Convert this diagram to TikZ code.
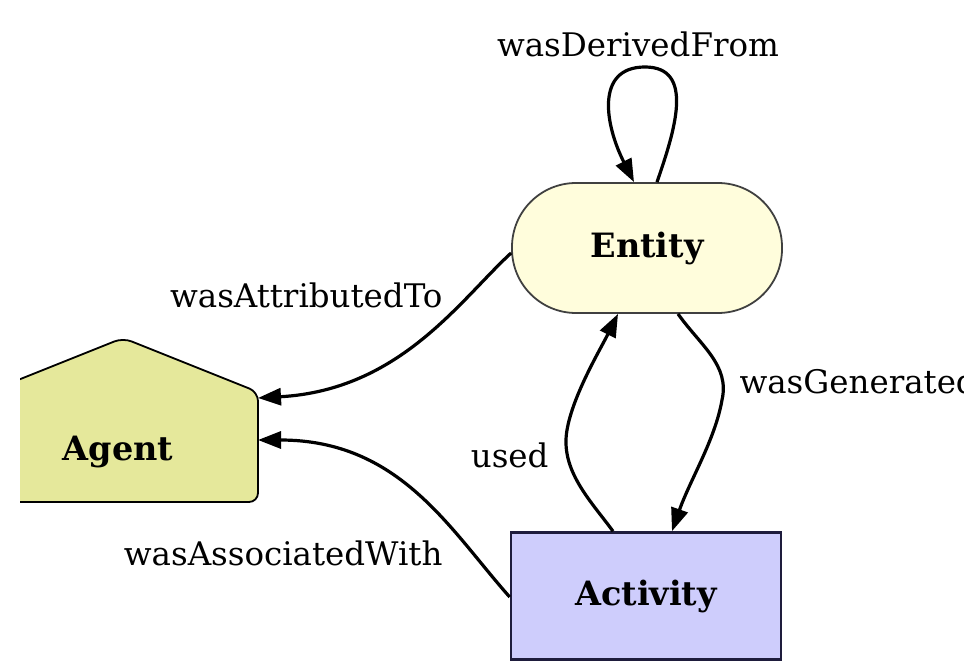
\documentclass[tikz,border=0pt]{standalone}
\usepackage{fontspec}
\setmainfont{DejaVu Serif}
\usetikzlibrary{calc, arrows.meta}
\definecolor{agentfill}{HTML}{E5E89B}
\definecolor{entityfill}{HTML}{FFFDDC}
\definecolor{activityfill}{HTML}{CECDFC}
\definecolor{activityline}{HTML}{1E1C3C}
\tikzstyle{every node}=[font=\fontsize{32.5}{36}\selectfont]
\tikzstyle{rel}=[-{Triangle[length=23pt,width=17pt]}, line width=3.2pt]
\tikzstyle{kind}=[font=\fontsize{33.5}{36}\selectfont\bfseries]

\begin{document}
\begin{tikzpicture}[x=1pt, y=-1pt]
	\clip (0,0) rectangle (964,663);
	
%%%%     NOEUDS     %%%%

	% agent
	\begin{scope}
		\clip (20,0) rectangle (964,663);
		\draw[fill=agentfill, line width=1.8pt, rounded corners=9pt] (-12,392) -- (123,338) -- (258,392) -- (258,502) -- (-12,502) -- cycle;
	\end{scope}
	\node[kind] (agent) at (118,452) {Agent};
	\coordinate (agA) at (258,398);
	\coordinate (agB) at (258,440);
	
	% entite
	\node[kind, draw=black!75, line width=1.8pt, fill=entityfill, rounded corners=64pt, minimum width=270pt, minimum height=130pt] (entity) at (647,248) {Entity};
	
	% activite
	\node[kind, draw=activityline, line width=2.6pt, fill=activityfill, minimum width=270pt, minimum height=127pt] (activity) at (646,596) {Activity};
	
%%%%     RELATIONS     %%%%

	% boucle
	\draw[rel] ($(entity.north)+(10,0)$) .. controls (675,130) and (695,67) .. (645,67)
		.. controls (595,67) and (605,125) .. ($(entity.north)+(-13,0)$);
	\node (derived) at (638,44) {wasDerivedFrom};
	
	% generation / usage
	\draw[rel] ($(entity.south)+(31,0)$) .. controls (700,345) and (730,365) .. (722,400)
		.. controls (715,440) and (690,480) .. ($(activity.north)+(26,0)$);
	\node[anchor=west] (generated) at (736,385) {wasGeneratedBy};
	
	\draw[rel] ($(activity.north)+(-33,0)$) .. controls (590,500) and (560,470) .. (567,430)
		.. controls (573,395) and (600,350) .. ($(entity.south)+(-29,0)$);
	\node[anchor=east] (used) at (552,455) {used};
	
	% vers l'agent
	\draw[rel] ($(entity.west)+(0,5)$) .. controls (460,300) and (400,390) .. (agA);
	\node[anchor=east] (attributed) at (446,295) {wasAttributedTo};
	
	\draw[rel] ($(activity.west)+(0,1)$) .. controls (450,530) and (400,440) .. (agB);
	\node[anchor=east] (associated) at (446,553) {wasAssociatedWith};
	
\end{tikzpicture}
\end{document}
